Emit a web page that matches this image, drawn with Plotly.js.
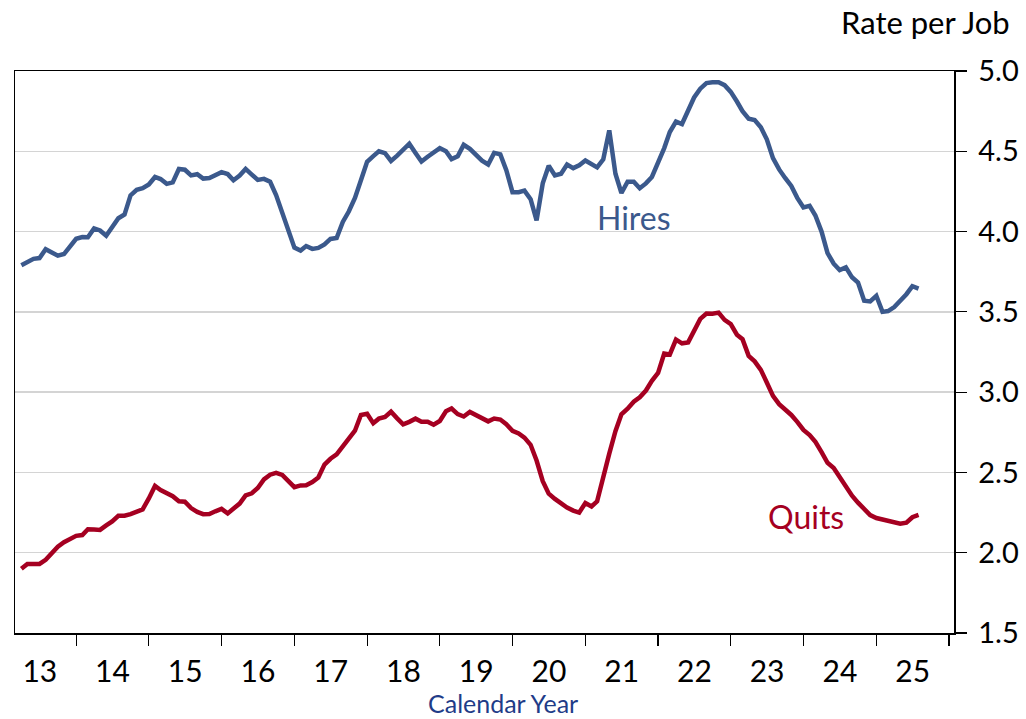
<!DOCTYPE html>
<html>
<head>
<meta charset="utf-8">
<script src="https://cdn.plot.ly/plotly-3.0.1.min.js"></script>
<style>html,body{margin:0;padding:0;background:#fff;}#chart{width:1026px;height:719px;}</style>
</head>
<body>
<div id="chart"></div>
<script>
// Monthly series, April 2013 through August 2025
var startYear = 2013, startMonth = 4, nMonths = 149;

var hires = [
3.79,3.81,3.83,3.835,3.89,3.87,3.85,3.86,3.91,3.955,3.966,3.965,
4.02,4.007,3.974,4.028,4.083,4.106,4.225,4.26,4.27,4.293,4.34,4.327,
4.297,4.306,4.39,4.385,4.35,4.357,4.33,4.334,4.352,4.37,4.358,4.32,
4.349,4.39,4.355,4.322,4.328,4.31,4.227,4.12,4.005,3.90,3.882,3.91,
3.892,3.898,3.92,3.954,3.96,4.06,4.125,4.21,4.32,4.435,4.47,4.50,
4.488,4.44,4.473,4.505,4.547,4.49,4.436,4.466,4.497,4.52,4.50,4.451,
4.469,4.54,4.515,4.478,4.442,4.418,4.49,4.481,4.382,4.245,4.245,4.255,
4.202,4.07,4.30,4.41,4.35,4.36,4.418,4.395,4.413,4.443,4.42,4.40,
4.45,4.63,4.36,4.24,4.31,4.31,4.27,4.30,4.34,4.43,4.52,4.62,
4.685,4.67,4.76,4.835,4.89,4.925,4.93,4.93,4.912,4.87,4.81,4.75,
4.703,4.694,4.65,4.575,4.457,4.387,4.334,4.284,4.21,4.15,4.16,4.10,
4.00,3.866,3.80,3.76,3.777,3.715,3.683,3.57,3.565,3.60,3.50,3.505,
3.53,3.565,3.61,3.66,3.645
];

var quits = [
1.90,1.93,1.93,1.93,1.956,1.998,2.037,2.065,2.084,2.105,2.11,2.146,
2.144,2.142,2.17,2.195,2.23,2.23,2.24,2.254,2.27,2.338,2.416,2.39,
2.373,2.352,2.32,2.318,2.278,2.254,2.24,2.241,2.258,2.273,2.245,2.275,
2.306,2.357,2.37,2.403,2.457,2.486,2.498,2.485,2.447,2.408,2.419,2.42,
2.44,2.468,2.549,2.585,2.612,2.665,2.707,2.76,2.858,2.865,2.807,2.835,
2.846,2.878,2.837,2.80,2.815,2.835,2.816,2.816,2.797,2.82,2.881,2.898,
2.863,2.848,2.877,2.856,2.838,2.818,2.836,2.829,2.80,2.759,2.743,2.717,
2.672,2.574,2.445,2.368,2.335,2.303,2.281,2.262,2.25,2.31,2.288,2.32,
2.458,2.617,2.757,2.862,2.897,2.94,2.968,3.01,3.07,3.12,3.24,3.235,
3.327,3.304,3.31,3.39,3.456,3.49,3.488,3.495,3.45,3.424,3.358,3.33,
3.226,3.192,3.139,3.06,2.977,2.925,2.893,2.858,2.815,2.765,2.733,2.69,
2.627,2.56,2.528,2.473,2.407,2.355,2.312,2.27,2.234,2.216,2.205,2.197,
2.188,2.18,2.187,2.221,2.235
];

var yTickVals = [1.5, 2.0, 2.5, 3.0, 3.5, 4.0, 4.5, 5.0];

var months = [];
for (var i = 0; i < nMonths; i++) {
  var m = startMonth - 1 + i;
  var y = startYear + Math.floor(m / 12);
  var mm = (m % 12) + 1;
  months.push(y + '-' + (mm < 10 ? '0' + mm : mm) + '-01');
}

var FONT = 'Lato, "Open Sans", sans-serif';

var traces = [
  {x: months, y: hires, type: 'scatter', mode: 'lines', name: 'Hires',
   line: {color: '#3B598C', width: 4.5}, hoverinfo: 'x+y'},
  {x: months, y: quits, type: 'scatter', mode: 'lines', name: 'Quits',
   line: {color: '#A50021', width: 4.5}, hoverinfo: 'x+y'}
];

var layout = {
  width: 1026, height: 719,
  margin: {l: 15, r: 72, t: 71, b: 86},
  paper_bgcolor: '#ffffff', plot_bgcolor: '#ffffff',
  showlegend: false,
  font: {family: FONT, color: '#000000'},
  xaxis: {
    type: 'date',
    range: ['2013-02-28', '2026-01-26'],
    tick0: '2014-01-01', dtick: 'M12',
    ticklabelmode: 'period', tickformat: '%y',
    ticks: 'outside', ticklen: 11, tickwidth: 1.2, tickcolor: '#000',
    showline: true, linecolor: '#000', linewidth: 1.5, mirror: true,
    showgrid: false, zeroline: false,
    tickfont: {family: FONT, size: 30, color: '#000'}
  },
  yaxis: {
    side: 'right',
    range: [1.5, 5.0],
    tickvals: yTickVals, tickformat: '.1f',
    ticks: 'outside', ticklen: 11, tickwidth: 1.2, tickcolor: '#000',
    ticklabelstandoff: 6,
    showline: true, linecolor: '#000', linewidth: 1.5, mirror: true,
    showgrid: true, gridcolor: '#D4D4D4', gridwidth: 1.5, zeroline: false,
    tickfont: {family: FONT, size: 29, color: '#000'}
  },
  annotations: [
    {text: 'Rate per Job', xref: 'paper', yref: 'paper', x: 1.062, y: 1.087,
     xanchor: 'right', yanchor: 'middle', showarrow: false,
     font: {family: FONT, size: 31, color: '#000'}},
    {text: 'Calendar Year', xref: 'paper', yref: 'paper', x: 0.5197, y: -0.124,
     xanchor: 'center', yanchor: 'middle', showarrow: false,
     font: {family: FONT, size: 25, color: '#1F3C88'}},
    {text: 'Hires', xref: 'x', yref: 'y', x: '2021-09-01', y: 4.09,
     xanchor: 'center', yanchor: 'middle', showarrow: false,
     font: {family: FONT, size: 32, color: '#3B598C'}},
    {text: 'Quits', xref: 'x', yref: 'y', x: '2024-01-15', y: 2.225,
     xanchor: 'center', yanchor: 'middle', showarrow: false,
     font: {family: FONT, size: 32, color: '#A50021'}}
  ]
};

Plotly.newPlot('chart', traces, layout, {displayModeBar: false, staticPlot: true});
</script>
</body>
</html>
